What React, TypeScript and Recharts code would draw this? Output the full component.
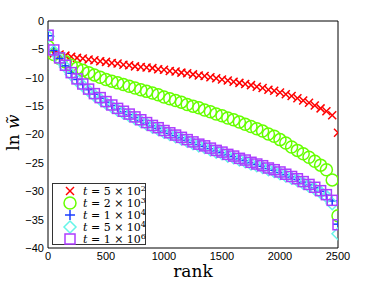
import { ComposedChart, Line, XAxis, YAxis, Legend } from 'recharts';

const ranks = [
  1, 50, 100, 150, 200, 250, 300, 350, 400, 450,
  500, 550, 600, 650, 700, 750, 800, 850, 900, 950,
  1000, 1050, 1100, 1150, 1200, 1250, 1300, 1350, 1400, 1450,
  1500, 1550, 1600, 1650, 1700, 1750, 1800, 1850, 1900, 1950,
  2000, 2050, 2100, 2150, 2200, 2250, 2300, 2350, 2400, 2450,
  2500,
];

const t5e2 = [
  -5.5, -5.7, -5.9, -6.1, -6.3, -6.5, -6.6, -6.8, -6.9, -7.1,
  -7.2, -7.4, -7.5, -7.7, -7.8, -8.0, -8.1, -8.2, -8.3, -8.5,
  -8.6, -8.8, -8.9, -9.1, -9.2, -9.4, -9.6, -9.7, -9.9, -10.1,
  -10.3, -10.5, -10.7, -10.9, -11.1, -11.3, -11.6, -11.8, -12.1, -12.3,
  -12.6, -12.9, -13.2, -13.6, -14.0, -14.4, -14.9, -15.4, -15.9, -16.6,
  -19.7,
];

const t2e3 = [
  -4.5, -5.9, -6.6, -7.2, -7.8, -8.3, -8.7, -9.1, -9.5, -9.9,
  -10.3, -10.6, -10.9, -11.2, -11.5, -11.8, -12.1, -12.4, -12.7, -13.0,
  -13.4, -13.7, -14.0, -14.3, -14.7, -15.0, -15.3, -15.7, -16.0, -16.4,
  -16.7, -17.1, -17.4, -17.8, -18.2, -18.6, -19.0, -19.4, -19.9, -20.3,
  -20.9, -21.5, -22.2, -22.8, -23.4, -24.0, -24.7, -25.4, -26.2, -28.0,
  -34.3,
];

const t1e4 = [
  -2.6, -5.2, -6.6, -7.9, -9.2, -10.3, -11.2, -12.1, -12.9, -13.6,
  -14.3, -14.9, -15.5, -16.0, -16.5, -17.0, -17.5, -18.0, -18.5, -18.9,
  -19.4, -19.8, -20.2, -20.6, -21.0, -21.4, -21.8, -22.1, -22.5, -22.9,
  -23.2, -23.6, -23.9, -24.3, -24.6, -25.0, -25.3, -25.6, -26.0, -26.3,
  -26.7, -27.1, -27.5, -27.9, -28.4, -28.9, -29.4, -30.0, -30.7, -31.7,
  -35.8,
];

const t5e4 = [
  -2.7, -5.4, -6.8, -8.1, -9.4, -10.5, -11.4, -12.3, -13.1, -13.8,
  -14.5, -15.1, -15.7, -16.2, -16.7, -17.2, -17.7, -18.2, -18.7, -19.1,
  -19.6, -20.0, -20.4, -20.8, -21.2, -21.6, -22.0, -22.3, -22.7, -23.1,
  -23.4, -23.8, -24.1, -24.5, -24.8, -25.2, -25.5, -25.8, -26.2, -26.5,
  -26.9, -27.3, -27.7, -28.1, -28.6, -29.1, -29.6, -30.2, -30.9, -32.2,
  -37.5,
];

const t1e6 = [
  -2.5, -5.1, -6.5, -7.8, -9.1, -10.2, -11.1, -12.0, -12.8, -13.5,
  -14.2, -14.8, -15.4, -15.9, -16.4, -16.9, -17.4, -17.9, -18.4, -18.8,
  -19.3, -19.7, -20.1, -20.5, -20.9, -21.3, -21.7, -22.0, -22.4, -22.8,
  -23.1, -23.5, -23.8, -24.2, -24.5, -24.9, -25.2, -25.5, -25.9, -26.2,
  -26.6, -27.0, -27.4, -27.8, -28.3, -28.8, -29.3, -29.9, -30.6, -31.6,
  -35.9,
];

const xTicks = [0, 500, 1000, 1500, 2000, 2500];
const yTicks = [0, -5, -10, -15, -20, -25, -30, -35, -40];

const series = [
  { key: 't5e2', mant: 5, exp: 2, color: '#ff0000', shape: 'x' },
  { key: 't2e3', mant: 2, exp: 3, color: '#66ff00', shape: 'circle' },
  { key: 't1e4', mant: 1, exp: 4, color: '#1a3cff', shape: 'plus' },
  { key: 't5e4', mant: 5, exp: 4, color: '#66f5e8', shape: 'diamond' },
  { key: 't1e6', mant: 1, exp: 6, color: '#ad3dff', shape: 'square' },
];

const data = ranks.map((rank, i) => ({
  rank,
  t5e2: t5e2[i],
  t2e3: t2e3[i],
  t1e4: t1e4[i],
  t5e4: t5e4[i],
  t1e6: t1e6[i],
}));

const fmt = (v: number) => (v < 0 ? `\u2212${-v}` : `${v}`);
const tickFont = { fontSize: 11, fill: '#000', fontFamily: 'Liberation Sans, Arial, sans-serif' };

function Marker({ cx, cy, shape, color }: { cx: number; cy: number; shape: string; color: string }) {
  const sw = 1.5;
  if (shape === 'x') {
    const r = 4;
    return (
      <g stroke={color} strokeWidth={sw} fill="none">
        <line x1={cx - r} y1={cy - r} x2={cx + r} y2={cy + r} />
        <line x1={cx - r} y1={cy + r} x2={cx + r} y2={cy - r} />
      </g>
    );
  }
  if (shape === 'circle') return <circle cx={cx} cy={cy} r={6} stroke={color} strokeWidth={sw} fill="none" />;
  if (shape === 'plus') {
    const r = 5;
    return (
      <g stroke={color} strokeWidth={sw} fill="none">
        <line x1={cx - r} y1={cy} x2={cx + r} y2={cy} />
        <line x1={cx} y1={cy - r} x2={cx} y2={cy + r} />
      </g>
    );
  }
  if (shape === 'diamond') {
    const r = 6;
    return (
      <polygon
        points={`${cx},${cy - r} ${cx + r},${cy} ${cx},${cy + r} ${cx - r},${cy}`}
        stroke={color} strokeWidth={sw} fill="none"
      />
    );
  }
  return <rect x={cx - 5} y={cy - 5} width={10} height={10} stroke={color} strokeWidth={sw} fill="none" />;
}

// legend box drawn in its own svg, MATLAB style
function LegendBox() {
  return (
    <svg width={94} height={62} style={{ display: 'block', overflow: 'visible' }}>
      <rect x={0.5} y={0.5} width={93} height={61} fill="#fff" stroke="#333" />
      {series.map((s, i) => (
        <g key={s.key}>
          <Marker cx={18} cy={8 + i * 12} shape={s.shape} color={s.color} />
          <text x={31} y={12 + i * 12} fontSize={11} fontFamily="DejaVu Serif, serif" fill="#000">
            <tspan fontStyle="italic">t</tspan>
            <tspan> = {s.mant} × 10</tspan>
            <tspan fontSize={8} dy={-4}>{s.exp}</tspan>
          </text>
        </g>
      ))}
    </svg>
  );
}

export default function App() {
  return (
    <div style={{ position: 'absolute', left: 0, top: 0, background: '#fff' }}>
      <ComposedChart width={374} height={281} data={data} margin={{ top: 21, right: 36, bottom: 3, left: 8 }}>
        <XAxis
          xAxisId="x" dataKey="rank" type="number" domain={[0, 2500]} ticks={xTicks} allowDataOverflow
          height={30} tickLine={false} tickSize={2} tickMargin={2} tick={tickFont}
          axisLine={{ stroke: '#000' }}
          label={{
            content: ({ viewBox }: any) => (
              <text x={viewBox.x + viewBox.width / 2} y={viewBox.y + 29} textAnchor="middle"
                fontSize={17} fontFamily="DejaVu Serif, serif" fill="#000">rank</text>
            ),
          }}
        />
        <XAxis xAxisId="xb" type="number" domain={[0, 2500]} ticks={xTicks} allowDataOverflow
          orientation="bottom" mirror tick={false} axisLine={false} tickSize={3} tickLine={{ stroke: '#000' }} />
        <XAxis xAxisId="xt" type="number" domain={[0, 2500]} ticks={xTicks} allowDataOverflow
          orientation="top" mirror tick={false} axisLine={{ stroke: '#000' }} tickSize={3} tickLine={{ stroke: '#000' }} />
        <YAxis
          yAxisId="y" type="number" domain={[-40, 0]} ticks={yTicks} allowDataOverflow
          width={40} tickLine={false} tickSize={2} tickMargin={2} tick={tickFont} tickFormatter={fmt}
          axisLine={{ stroke: '#000' }}
          label={{
            content: ({ viewBox }: any) => {
              const x = viewBox.x + 11;
              const y = viewBox.y + viewBox.height / 2 - 2;
              return (
                <text x={x} y={y} transform={`rotate(-90, ${x}, ${y})`} textAnchor="middle"
                  fontSize={17} fontFamily="DejaVu Serif, serif" fill="#000">
                  <tspan>ln </tspan>
                  <tspan fontStyle="italic">{'w\u0303'}</tspan>
                </text>
              );
            },
          }}
        />
        <YAxis yAxisId="yl" type="number" domain={[-40, 0]} ticks={yTicks} allowDataOverflow
          orientation="left" mirror tick={false} axisLine={false} tickSize={3} tickLine={{ stroke: '#000' }} />
        <YAxis yAxisId="yr" type="number" domain={[-40, 0]} ticks={yTicks} allowDataOverflow
          orientation="right" mirror tick={false} axisLine={{ stroke: '#000' }} tickSize={3} tickLine={{ stroke: '#000' }} />
        {series.map(s => (
          <Line
            key={s.key}
            xAxisId="x"
            yAxisId="y"
            dataKey={s.key}
            stroke="none"
            isAnimationActive={false}
            activeDot={false}
            dot={(p: any) => <Marker key={`${s.key}-${p.index}`} cx={p.cx} cy={p.cy} shape={s.shape} color={s.color} />}
          />
        ))}
        <Legend
          layout="vertical" align="center" verticalAlign="middle"
          wrapperStyle={{ left: 52, top: 183, width: 94, height: 62 }}
          content={() => <LegendBox />}
        />
      </ComposedChart>
    </div>
  );
}
